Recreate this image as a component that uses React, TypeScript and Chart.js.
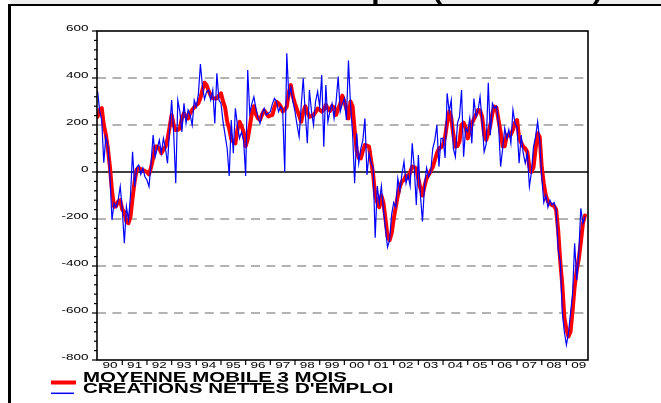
import React, { useEffect, useRef } from 'react';
import { Chart, registerables } from 'chart.js';

Chart.register(...registerables);

const TITLE = "Créations nettes d'emploi (en milliers)";
const LEGEND_MA = 'MOYENNE MOBILE 3 MOIS';
const LEGEND_RAW = "CREATIONS NETTES D'EMPLOI";

const YEAR_LABELS = ['90', '91', '92', '93', '94', '95', '96', '97', '98', '99', '00', '01', '02', '03', '04', '05', '06', '07', '08', '09'];
const Y_TICKS = [600, 400, 200, 0, -200, -400, -600, -800];
const GRID_DASHED = [400, 200, -200, -400, -600];

// Monthly net job creations (thousands), Jan 1990 - Oct 2009
const creations = [
  342, 260, 220, 40, 150, 110, -20, -204, -132, -150, -119, -62,
  -160, -303, -148, -204, -100, 86, -62, 20, 30, -10, 17, -20,
  -34, -62, 40, 157, 65, 100, 136, 80, 143, 100, 37, 180,
  306, 165, -48, 306, 257, 171, 292, 207, 264, 243, 200, 306,
  278, 330, 459, 363, 310, 342, 349, 306, 349, 207, 420, 306,
  292, 214, 157, 100, -17, 221, 80, 271, 200, 143, 170, 136,
  -17, 434, 250, 290, 320, 271, 230, 207, 250, 271, 243, 250,
  257, 290, 313, 299, 257, 278, 264, 1, 505, 320, 360, 299,
  257, 200, 150, 280, 399, 250, 122, 349, 260, 200, 300, 342,
  278, 413, 108, 370, 214, 260, 292, 228, 300, 406, 257, 290,
  313, 221, 474, 285, 165, -48, 165, 37, 100, 136, 228, -13,
  80, 40, 18, -280, -60, -130, -60, -160, -240, -320, -290, -180,
  -130, -150, -27, -80, -10, 44, -48, -13, -60, 122, 18, -140,
  72, -100, -210, -60, 18, -20, 0, 100, 136, 200, 23, 143,
  143, 60, 335, 257, 306, 100, 65, 207, 235, 349, 65, 186,
  171, 230, 122, 313, 235, 260, 320, 214, 86, 120, 380, 157,
  292, 271, 280, 200, 23, 100, 186, 143, 180, 122, 264, 207,
  190, 37, 157, 80, 37, 80, -62, 0, 108, 150, 214, 136,
  -20, -130, -100, -150, -120, -140, -130, -160, -332, -380, -597, -681,
  -736, -686, -600, -520, -303, -460, -346, -155, -218, -190,
];

// 3-month moving average
const moyenne = [
  235, 265, 272, 200, 160, 100, 20, -80, -148, -145, -125, -120,
  -160, -170, -211, -218, -190, -110, -40, 10, 17, 12, 8, 4,
  0, -10, 20, 60, 108, 108, 100, 80, 95, 108, 140, 190,
  243, 200, 178, 180, 185, 230, 250, 235, 228, 250, 265, 275,
  285, 292, 315, 350, 380, 370, 345, 325, 315, 313, 313, 325,
  335, 300, 275, 215, 185, 140, 128, 122, 180, 214, 195, 170,
  110, 140, 193, 250, 280, 245, 228, 222, 245, 262, 250, 236,
  240, 243, 275, 299, 292, 280, 257, 265, 278, 340, 370, 320,
  290, 265, 240, 214, 255, 280, 255, 235, 238, 242, 255, 270,
  265, 257, 265, 285, 270, 260, 280, 275, 243, 270, 290, 325,
  300, 268, 228, 300, 280, 178, 90, 60, 58, 90, 115, 112,
  108, 50, -10, -100, -130, -150, -100, -130, -200, -275, -290, -260,
  -200, -150, -100, -62, -40, -34, -15, -25, 0, 23, 20, 15,
  -30, -70, -100, -60, -27, -13, 5, 20, 50, 80, 100, 105,
  115, 150, 210, 257, 230, 160, 108, 110, 130, 200, 210, 190,
  143, 175, 207, 225, 243, 264, 262, 235, 160, 136, 165, 200,
  250, 278, 273, 220, 170, 110, 110, 157, 155, 160, 180, 210,
  221, 145, 125, 108, 100, 85, 20, 0, 20, 100, 165, 150,
  20, -50, -100, -125, -135, -140, -145, -160, -250, -380, -480, -620,
  -670, -700, -680, -590, -488, -420, -370, -300, -220, -185,
];

const FONT = '"Liberation Sans", Arial, sans-serif';

const decor = {
  id: 'decor',
  beforeDraw(chart: any) {
    const ctx = chart.ctx;
    ctx.save();
    ctx.fillStyle = '#ffffff';
    ctx.fillRect(0, 0, chart.width, chart.height);
    ctx.restore();
  },
  beforeDatasetsDraw(chart: any) {
    const { ctx, chartArea: a, scales } = chart;
    const y = scales.y;
    ctx.save();
    ctx.strokeStyle = '#9a9a9a';
    ctx.lineWidth = 1.6;
    ctx.setLineDash([9, 6.4]);
    for (const v of GRID_DASHED) {
      const py = y.getPixelForValue(v);
      ctx.beginPath();
      ctx.moveTo(a.left, py);
      ctx.lineTo(a.right, py);
      ctx.stroke();
    }
    ctx.setLineDash([]);
    ctx.strokeStyle = '#000';
    ctx.lineWidth = 1.5;
    const p0 = y.getPixelForValue(0);
    ctx.beginPath();
    ctx.moveTo(a.left, p0);
    ctx.lineTo(a.right, p0);
    ctx.stroke();
    ctx.restore();
  },
  afterDraw(chart: any) {
    const { ctx, chartArea: a, scales } = chart;
    const x = scales.x;
    const y = scales.y;
    const line = (x1: number, y1: number, x2: number, y2: number) => {
      ctx.beginPath();
      ctx.moveTo(x1, y1);
      ctx.lineTo(x2, y2);
      ctx.stroke();
    };
    ctx.save();
    // frame
    ctx.strokeStyle = '#000';
    ctx.lineWidth = 1.6;
    ctx.strokeRect(a.left, a.top, a.right - a.left, a.bottom - a.top);
    // y ticks
    ctx.lineWidth = 1.2;
    for (let v = -800; v <= 600; v += 40) {
      const py = y.getPixelForValue(v);
      const len = v % 200 === 0 ? 5 : 3;
      line(a.left - len, py, a.left, py);
    }
    // y labels
    ctx.fillStyle = '#000';
    ctx.font = `9px ${FONT}`;
    ctx.textAlign = 'right';
    ctx.textBaseline = 'alphabetic';
    for (const v of Y_TICKS) {
      const py = y.getPixelForValue(v);
      ctx.save();
      ctx.translate(88.5, py - 0.3);
      ctx.scale(1.5, 1);
      ctx.fillText(String(v), 0, 0);
      ctx.restore();
    }
    // x ticks
    for (let k = 1; k < YEAR_LABELS.length; k++) {
      const px = x.getPixelForValue(12 * k);
      line(px, a.bottom, px, a.bottom + 5);
    }
    // x labels
    ctx.textAlign = 'center';
    YEAR_LABELS.forEach((lab, k) => {
      const px = x.getPixelForValue(12 * k + 6);
      ctx.save();
      ctx.translate(px, a.bottom + 8.3);
      ctx.scale(1.5, 1);
      ctx.fillText(lab, 0, 0);
      ctx.restore();
    });
    // legend
    ctx.strokeStyle = '#ff0000';
    ctx.lineWidth = 4;
    line(51, 382.5, 76, 382.5);
    ctx.strokeStyle = '#0000ff';
    ctx.lineWidth = 1.5;
    line(51, 393.3, 74, 393.3);
    ctx.fillStyle = '#000';
    ctx.font = `bold 15px ${FONT}`;
    ctx.textAlign = 'left';
    ctx.save();
    ctx.translate(83, 382.3);
    ctx.scale(1.365, 1);
    ctx.fillText(LEGEND_MA, 0, 0);
    ctx.restore();
    ctx.save();
    ctx.translate(83, 393.3);
    ctx.scale(1.37, 1);
    ctx.fillText(LEGEND_RAW, 0, 0);
    ctx.restore();
    // title banner (cut off at the top of the page)
    ctx.fillStyle = '#eeeeee';
    ctx.fillRect(11, 0, 650, 4);
    ctx.fillStyle = '#000';
    ctx.font = `bold 22px ${FONT}`;
    ctx.save();
    ctx.translate(58, -0.5);
    ctx.scale(1.368, 1);
    ctx.fillText(TITLE, 0, 0);
    ctx.restore();
    ctx.fillRect(8, 4, 653, 2);
    ctx.fillRect(8, 4, 3, 399);
    ctx.restore();
  },
};

export default function App() {
  const ref = useRef<HTMLCanvasElement>(null);
  useEffect(() => {
    const canvas = ref.current;
    if (!canvas) return;
    const chart = new Chart(canvas, {
      type: 'line',
      data: {
        datasets: [
          {
            label: LEGEND_RAW,
            data: creations.map((v, i) => ({ x: i, y: v })),
            borderColor: '#0000ff',
            backgroundColor: '#0000ff',
            borderWidth: 1.2,
            pointRadius: 0,
            tension: 0,
            order: 0,
          },
          {
            label: LEGEND_MA,
            data: moyenne.map((v, i) => ({ x: i, y: v })),
            borderColor: '#ff0000',
            backgroundColor: '#ff0000',
            borderWidth: 4,
            borderJoinStyle: 'round',
            borderCapStyle: 'round',
            pointRadius: 0,
            tension: 0,
            order: 1,
          },
        ],
      },
      options: {
        responsive: false,
        animation: false,
        devicePixelRatio: 1,
        events: [],
        layout: { padding: { left: 97, top: 31, right: 73, bottom: 43 } },
        scales: {
          x: { type: 'linear', display: false, min: -0.3, max: 238.5 },
          y: { type: 'linear', display: false, min: -800, max: 600 },
        },
        plugins: {
          legend: { display: false },
          tooltip: { enabled: false },
          title: { display: false },
        },
      },
      plugins: [decor],
    } as any);
    return () => chart.destroy();
  }, []);
  return (
    <div style={{ position: 'fixed', left: 0, top: 0, width: 661, height: 403, overflow: 'hidden', background: '#fff' }}>
      <canvas ref={ref} width={661} height={403} style={{ display: 'block', width: 661, height: 403 }} />
    </div>
  );
}
